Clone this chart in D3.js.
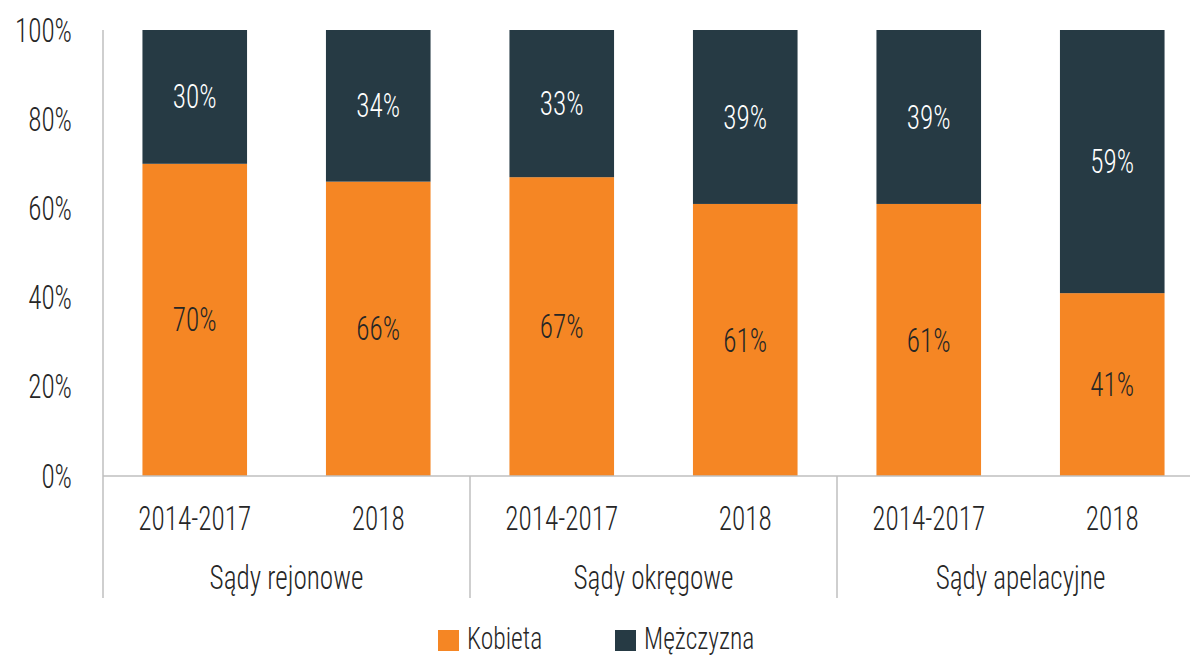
<!DOCTYPE html>
<html><head><meta charset="utf-8">
<script src="https://cdn.jsdelivr.net/npm/d3@7"></script>
<style>
body{margin:0;background:#fff;}
text{font-family:"Roboto Condensed","Liberation Sans Narrow","DejaVu Sans Condensed",sans-serif;font-weight:300;fill:#262626;}
</style></head><body>
<svg id="c" width="1190" height="657"></svg>
<script>
const groups = ["Sądy rejonowe","Sądy okręgowe","Sądy apelacyjne"];
const periods = ["2014-2017","2018"];
const kobieta = [70,66,67,61,61,41];
const mezczyzna = [30,34,33,39,39,59];
const seriesNames = ["Kobieta","Mężczyzna"];
const colors = ["#F58624","#263A44"];
const yTicks = [0,20,40,60,80,100];

(function(){
const svg = d3.select("#c");
const pLeft = 103, pRight = 1204, pTop = 30, pBottom = 476, axisBottom = 598;
const fs = 34, sx = 0.8;
function label(px, py, str, anchor, fill, size){
  return svg.append("text").attr("transform",`translate(${px},${py}) scale(${sx},1)`)
    .attr("text-anchor",anchor||"middle").attr("dominant-baseline","central")
    .style("font-size",(size||fs)+"px").style("fill",fill||"#262626").text(str);
}
const cats = [];
groups.forEach((g,gi)=>periods.forEach((p,pi)=>cats.push({g,p,key:gi+"-"+pi})));
const x = d3.scaleBand().domain(cats.map(c=>c.key)).range([pLeft,pRight]).paddingInner(0.43).paddingOuter(0.215);
const xg = d3.scaleBand().domain(groups).range([pLeft,pRight]);
const y = d3.scaleLinear().domain([0,100]).range([pBottom,pTop]);

const data = cats.map((c,i)=>({key:c.key, vals:[kobieta[i], mezczyzna[i]]}));
data.forEach(d=>{
  let base = 0;
  d.vals.forEach((v,si)=>{
    svg.append("rect").attr("x",x(d.key)).attr("width",x.bandwidth())
      .attr("y",y(base+v)).attr("height",y(base)-y(base+v)).attr("fill",colors[si]);
    label(x(d.key)+x.bandwidth()/2, y(base+v/2), v+"%", "middle", si===0?"#262626":"#ffffff");
    base += v;
  });
});
const lc = "#bfbfbf";
svg.append("line").attr("x1",pLeft).attr("x2",pLeft).attr("y1",pTop).attr("y2",axisBottom).attr("stroke",lc).attr("stroke-width",1.5);
svg.append("line").attr("x1",pLeft).attr("x2",1190).attr("y1",pBottom).attr("y2",pBottom).attr("stroke",lc).attr("stroke-width",1.5);
groups.forEach((g,i)=>{
  if(i>0) svg.append("line").attr("x1",xg(g)).attr("x2",xg(g)).attr("y1",pBottom).attr("y2",axisBottom).attr("stroke",lc).attr("stroke-width",1.5);
  label(xg(g)+xg.bandwidth()/2, 577, g);
});
cats.forEach(c=>label(x(c.key)+x.bandwidth()/2, 518, c.p));
yTicks.forEach(t=>label(72, y(t), t+"%", "end"));
const lx = [438,615];
seriesNames.forEach((s,i)=>{
  svg.append("rect").attr("x",lx[i]).attr("y",630).attr("width",21).attr("height",21).attr("fill",colors[i]);
  label(lx[i]+29, 638, s, "start", null, 32);
});
})();
</script></body></html>
